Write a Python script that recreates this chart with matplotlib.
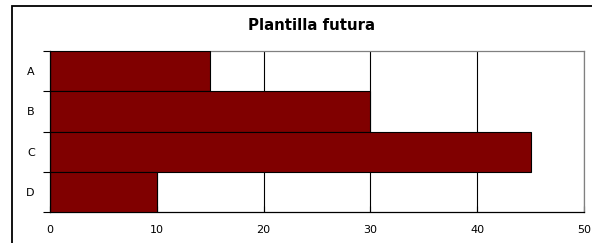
import matplotlib
matplotlib.use("Agg")
import matplotlib.pyplot as plt
from matplotlib.patches import Rectangle

categories = ["A", "B", "C", "D"]
values = [15, 30, 45, 10]
xticks = [0, 10, 20, 30, 40, 50]
title = "Plantilla futura"

plt.rcParams['font.family'] = ['DejaVu Sans']

W, H = 592, 243
fig = plt.figure(figsize=(W/100, H/100), dpi=100)

# outer chart frame
fig.patches.append(Rectangle((12/W, -0.1), 1.2, (H-6)/H + 0.1, transform=fig.transFigure,
                             fill=False, edgecolor='black', linewidth=1.3, zorder=0))

ax = fig.add_axes([50/W, (H-212)/H, (584-50)/W, (212-51)/H])
y = list(range(len(categories)))
ax.barh(y, values, height=1.0, color='#800000', edgecolor='black', linewidth=0.8, zorder=3)
ax.set_ylim(len(categories)-0.5, -0.5)
ax.set_xlim(0, 50)
ax.set_xticks(xticks)
ax.set_yticks(y)
ax.set_yticklabels(categories)
ax.set_yticks([i - 0.5 for i in range(len(categories)+1)], minor=True)
ax.tick_params(axis='y', which='major', length=0, pad=11, labelsize=8)
ax.tick_params(axis='y', which='minor', length=5, width=0.8, direction='out')
ax.tick_params(axis='x', length=4, width=0.8, direction='in', labelsize=8, pad=9)
ax.xaxis.grid(True, color='black', linewidth=0.8, zorder=1)
ax.set_axisbelow(True)
for s in ['left', 'bottom']:
    ax.spines[s].set_color('black')
    ax.spines[s].set_linewidth(0.9)
for s in ['top', 'right']:
    ax.spines[s].set_color('#808080')
    ax.spines[s].set_linewidth(0.9)
ax.spines['left'].set_zorder(4)

fig.text(311/W, 1 - 25/H, title, ha='center', va='center', fontsize=10.8, fontweight='bold')

fig.savefig("out.png", dpi=100)
